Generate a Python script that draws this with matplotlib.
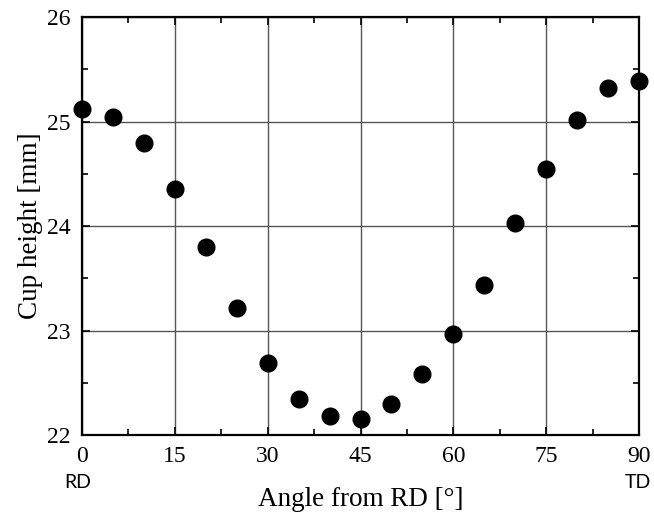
import matplotlib
matplotlib.use("Agg")
import matplotlib.pyplot as plt
from matplotlib.ticker import MultipleLocator
import numpy as np

# Cup height measured at each angle from the rolling direction
angle = [0, 5, 10, 15, 20, 25, 30, 35, 40, 45, 50, 55, 60, 65, 70, 75, 80, 85, 90]
height = [25.12, 25.04, 24.79, 24.35, 23.80, 23.22, 22.69, 22.34, 22.18, 22.15,
          22.30, 22.58, 22.97, 23.44, 24.03, 24.55, 25.01, 25.32, 25.39]

plt.rcParams["font.family"] = "Liberation Serif"

fig = plt.figure(figsize=(6.54, 5.15), dpi=100)
ax = fig.add_axes([0.1254, 0.1553, 0.8517, 0.8117])

ax.plot(angle, height, "o", color="black", markersize=12, clip_on=False, zorder=5)

ax.set_xlim(0, 90)
ax.set_ylim(22, 26)
ax.xaxis.set_major_locator(MultipleLocator(15))
ax.xaxis.set_minor_locator(MultipleLocator(7.5))
ax.yaxis.set_major_locator(MultipleLocator(1))
ax.yaxis.set_minor_locator(MultipleLocator(0.5))

ax.grid(True, which="major", color="#555555", lw=1.0)
ax.tick_params(which="both", direction="in", top=True, right=True,
               labelsize=17, width=1.2)
ax.tick_params(axis="x", pad=8)
ax.tick_params(axis="y", pad=8)
ax.tick_params(which="major", length=6)
ax.tick_params(which="minor", length=4)
for sp in ax.spines.values():
    sp.set_linewidth(1.6)

ax.set_xlabel("Angle from RD [°]", fontsize=19.5, labelpad=14)
ax.set_ylabel("Cup height [mm]", fontsize=19.5, labelpad=3)

# direction markers under the axis ends
ax.text(-0.007, -0.113, "RD", transform=ax.transAxes, ha="center", va="center",
        fontsize=14, family="Lato")
ax.text(0.998, -0.113, "TD", transform=ax.transAxes, ha="center", va="center",
        fontsize=14, family="Lato")

fig.savefig("out.png", dpi=100)
